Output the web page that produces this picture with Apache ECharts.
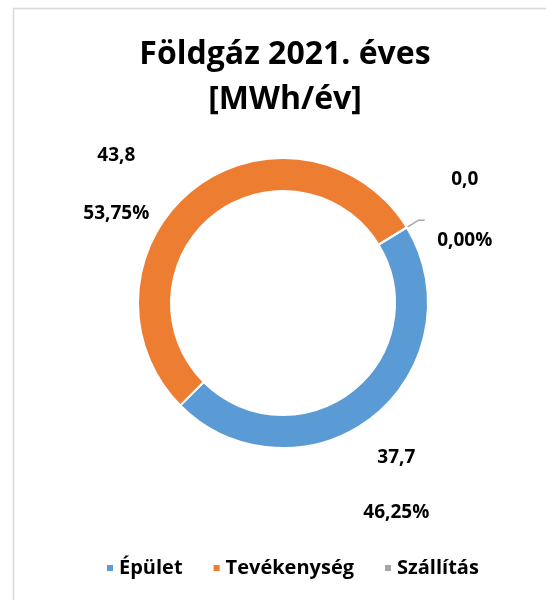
<!DOCTYPE html>
<html>
<head>
<meta charset="utf-8">
<script src="https://cdn.jsdelivr.net/npm/echarts@6/dist/echarts.min.js"></script>
<style>
  html, body { margin: 0; padding: 0; background: #fff; }
  #main { width: 546px; height: 600px; }
</style>
</head>
<body>
<div id="main"></div>
<script>
// földgáz 2021, MWh/év
var categories = ["Épület", "Tevékenység", "Szállítás"];
var values = [37.72, 43.84, 0.0];
var colors = ["#5B9BD5", "#ED7D31", "#A5A5A5"];

// label placement per slice (Excel puts them far out)
var labelLines = [
  { length: 87, length2: -70, lineHeight: 55, padding: 0, show: false },
  { length: 5, length2: 34, lineHeight: 58, padding: 0, show: false },
  { length: 14, length2: 6, lineHeight: 61, padding: [0, 0, 20, 0], show: true }
];

var FONT = "Open Sans";

var fmt = function (n, d) {
  return n.toFixed(d).replace(".", ",");
};

var seriesData = categories.map(function (name, i) {
  return {
    name: name,
    value: values[i],
    itemStyle: { color: colors[i] },
    label: {
      lineHeight: labelLines[i].lineHeight,
      padding: labelLines[i].padding
    },
    labelLine: {
      show: labelLines[i].show,
      length: labelLines[i].length,
      length2: labelLines[i].length2
    }
  };
});

var myChart = echarts.init(document.getElementById("main"));
var option = {
  animation: false,
  graphic: [
    {
      type: "rect",
      shape: { x: 13.5, y: 8.5, width: 700, height: 800 },
      style: { fill: null, stroke: "#d9d9d9", lineWidth: 1.5 }
    }
  ],
  title: {
    text: "Földgáz 2021. éves\n[MWh/év]",
    left: 280,
    textAlign: "center",
    top: 27,
    textStyle: {
      fontFamily: FONT,
      fontWeight: "bold",
      fontSize: 32,
      lineHeight: 45,
      color: "#000"
    }
  },
  legend: {
    data: categories,
    left: 100,
    top: 553,
    itemWidth: 8,
    itemHeight: 8,
    itemGap: 29,
    icon: "rect",
    textStyle: {
      fontFamily: FONT,
      fontWeight: "bold",
      fontSize: 20,
      color: "#000"
    }
  },
  series: [
    {
      type: "pie",
      center: [283, 303],
      radius: [112, 145],
      startAngle: 31.4,
      clockwise: true,
      avoidLabelOverlap: false,
      itemStyle: { borderColor: "#fff", borderWidth: 2 },
      label: {
        show: true,
        position: "outside",
        fontFamily: FONT,
        fontWeight: "bold",
        fontSize: 19,
        color: "#000",
        formatter: function (p) {
          return "{a|" + fmt(p.value, 1) + "}\n{a|" + fmt(p.percent, 2) + "%}";
        },
        rich: {
          a: {
            width: 70,
            align: "center",
            fontFamily: FONT,
            fontWeight: "bold",
            fontSize: 19,
            color: "#000"
          }
        }
      },
      labelLine: {
        lineStyle: { color: "#A5A5A5", width: 1.5 }
      },
      emphasis: { disabled: true },
      data: seriesData
    }
  ]
};
myChart.setOption(option);
</script>
</body>
</html>
